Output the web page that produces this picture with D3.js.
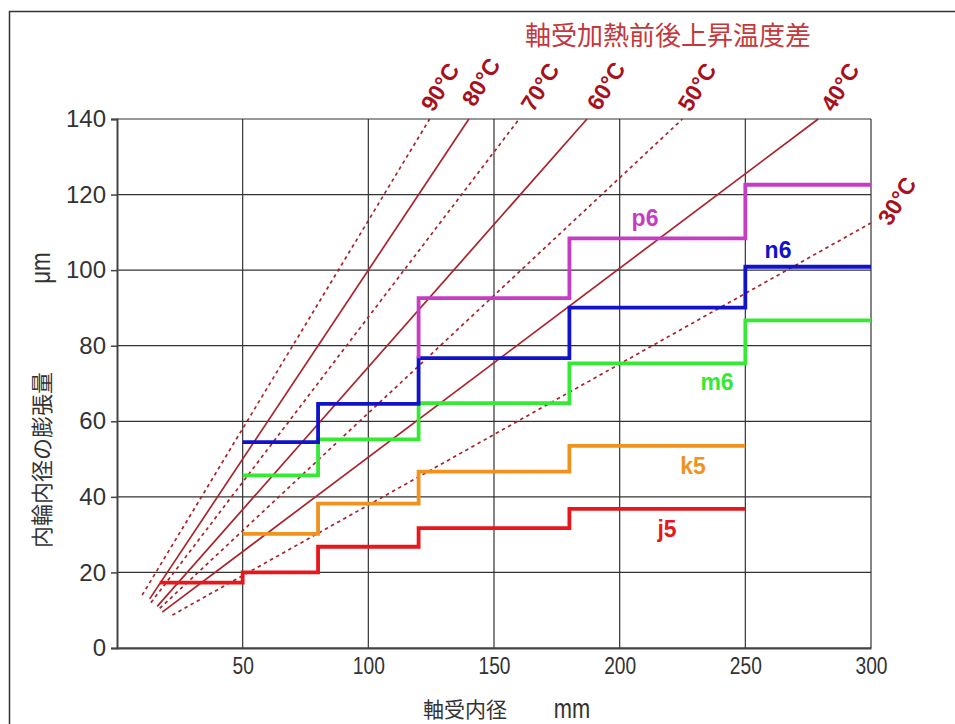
<!DOCTYPE html>
<html>
<head>
<meta charset="utf-8">
<script src="https://cdn.jsdelivr.net/npm/d3@7/dist/d3.min.js"></script>
<style>
  html, body { margin: 0; padding: 0; background: #fff; }
  svg { display: block; }
  text { font-family: "Liberation Sans", Arial, "Noto Sans CJK JP", sans-serif; }
  .cjk { font-family: "Noto Sans CJK JP", "Noto Sans CJK SC", sans-serif; }
</style>
</head>
<body>
<svg id="chart" width="955" height="724"></svg>
<script>
// Bore diameter class boundaries (mm)
const boreEdges = [50, 80, 120, 180, 250, 300];
const j5Edges = [17, 50, 80, 120, 180, 250];
const p6Edges = [120, 120, 180, 250, 300];

// Inner ring bore expansion per tolerance class (μm)
const j5 = [17.3, 20.0, 26.8, 31.7, 36.8];
const k5 = [30.2, 38.2, 46.7, 53.5];
const m6 = [45.7, 55.2, 64.8, 75.3, 86.7];
const n6 = [54.5, 64.6, 76.7, 90.1, 100.9];
const p6 = [76.7, 92.6, 108.4, 122.6];

const seriesNames = ["j5", "k5", "m6", "n6", "p6"];
const seriesColors = ["#e8171c", "#f0921e", "#35ea35", "#1212c8", "#c63cc4"];

// Temperature rise lines: start point and end point (mm, μm)
const tempLabels = ["90°C", "80°C", "70°C", "60°C", "50°C", "40°C", "30°C"];
const tempDashed = [true, false, true, false, true, false, true];
const tempX0 = [10, 13, 13.5, 16, 17, 18, 22];
const tempY0 = [14, 13, 12, 11, 10.5, 9.5, 8.7];
const tempX1 = [124.4, 140, 160, 187, 225, 279, 300];
const tempY1 = [140, 140, 140, 140, 140, 140, 112.5];

// Axis ticks
const xTicks = [50, 100, 150, 200, 250, 300];
const yTicks = [0, 20, 40, 60, 80, 100, 120, 140];

const svg = d3.select("#chart");

const x = d3.scaleLinear().domain([0, 300]).range([117, 871]);
const y = d3.scaleLinear().domain([0, 140]).range([648, 119]);

// outer frame
svg.append("path")
  .attr("d", "M9.5,724 L9.5,11.5 L955,11.5")
  .attr("fill", "none").attr("stroke", "#333").attr("stroke-width", 1.5);

// grid
const grid = svg.append("g");
grid.selectAll(".gx").data(xTicks).join("line")
  .attr("x1", d => x(d)).attr("x2", d => x(d))
  .attr("y1", y(0)).attr("y2", y(140))
  .attr("stroke", "#333").attr("stroke-width", 1.2);
grid.selectAll(".gy").data(yTicks).join("line")
  .attr("x1", x(0)).attr("x2", x(300))
  .attr("y1", d => y(d)).attr("y2", d => y(d))
  .attr("stroke", "#333").attr("stroke-width", 1.2);

// axes
const yAxis = svg.append("g")
  .attr("transform", `translate(${x(0)},0)`)
  .call(d3.axisLeft(y).tickValues(yTicks).tickSize(6).tickPadding(5));
yAxis.select(".domain").attr("stroke", "#444").attr("stroke-width", 2);
yAxis.selectAll(".tick line").attr("stroke", "#444").attr("stroke-width", 1.5);
yAxis.selectAll(".tick text").attr("font-size", 24).attr("fill", "#333")
  .attr("font-family", "Liberation Sans, Arial, sans-serif");

const xAxis = svg.append("g")
  .attr("transform", `translate(0,${y(0)})`)
  .call(d3.axisBottom(x).tickValues(xTicks).tickSize(0).tickPadding(9));
xAxis.select(".domain").attr("stroke", "#444").attr("stroke-width", 2);
xAxis.selectAll(".tick text").attr("font-size", 24).attr("fill", "#333")
  .attr("font-family", "Liberation Sans, Arial, sans-serif")
  .attr("transform", "scale(0.8,1)");

// temperature rise lines
const tg = svg.append("g");
tempLabels.forEach((lab, i) => {
  tg.append("line")
    .attr("x1", x(tempX0[i])).attr("y1", y(tempY0[i]))
    .attr("x2", x(tempX1[i])).attr("y2", y(tempY1[i]))
    .attr("stroke", "#a8242a").attr("stroke-width", 1.7)
    .attr("stroke-dasharray", tempDashed[i] ? "3.5,3.5" : null);
});

// tolerance class step lines
const stepLine = d3.line().x(d => x(d[0])).y(d => y(d[1])).curve(d3.curveStepAfter);
function stepPoints(edges, vals) {
  const pts = vals.map((v, i) => [edges[i], v]);
  pts.push([edges[vals.length], vals[vals.length - 1]]);
  return pts;
}
const allSeries = [
  stepPoints(j5Edges, j5),
  stepPoints(boreEdges, k5),
  stepPoints(boreEdges, m6),
  stepPoints(boreEdges, n6),
  stepPoints(p6Edges, p6)
];
svg.append("g").selectAll("path").data(allSeries).join("path")
  .attr("d", d => stepLine(d))
  .attr("fill", "none")
  .attr("stroke", (d, i) => seriesColors[i])
  .attr("stroke-width", 3.8);

// series labels
const seriesLabelPos = [[667, 529], [693, 466], [717, 382], [778, 250], [645, 218]];
svg.append("g").selectAll("text").data(seriesNames).join("text")
  .attr("x", (d, i) => seriesLabelPos[i][0])
  .attr("y", (d, i) => seriesLabelPos[i][1])
  .attr("text-anchor", "middle").attr("dominant-baseline", "central")
  .attr("font-size", 23).attr("font-weight", "bold")
  .attr("fill", (d, i) => seriesColors[i])
  .text(d => d);

// temperature labels
const tempLabelPos = [[440, 87], [481, 82], [540, 87], [606, 86], [697, 87], [840, 87], [897, 201]];
svg.append("g").selectAll("text").data(tempLabels).join("text")
  .attr("transform", (d, i) => `translate(${tempLabelPos[i][0]},${tempLabelPos[i][1]}) rotate(-58)`)
  .attr("text-anchor", "middle").attr("dominant-baseline", "central")
  .attr("font-size", 23).attr("font-weight", "bold")
  .attr("fill", "#a8101c")
  .text(d => d);

// heading for the temperature lines
svg.append("text").attr("class", "cjk")
  .attr("x", 668).attr("y", 33)
  .attr("text-anchor", "middle").attr("dominant-baseline", "central")
  .attr("font-size", 26).attr("fill", "#c4373a")
  .text("軸受加熱前後上昇温度差");

// axis titles
svg.append("text").attr("class", "cjk")
  .attr("transform", "translate(40,460) rotate(-90)")
  .attr("text-anchor", "middle").attr("dominant-baseline", "central")
  .attr("font-size", 22).attr("fill", "#333")
  .text("内輪内径の膨張量");
svg.append("text")
  .attr("transform", "translate(40,268) rotate(-90) scale(0.8,1)")
  .attr("text-anchor", "middle").attr("dominant-baseline", "central")
  .attr("font-size", 28).attr("fill", "#333")
  .text("μm");

svg.append("text").attr("class", "cjk")
  .attr("x", 465).attr("y", 708)
  .attr("text-anchor", "middle").attr("dominant-baseline", "central")
  .attr("font-size", 21).attr("fill", "#333")
  .text("軸受内径");
svg.append("text")
  .attr("transform", "translate(572,708) scale(0.78,1)")
  .attr("text-anchor", "middle").attr("dominant-baseline", "central")
  .attr("font-size", 28).attr("fill", "#333")
  .text("mm");
</script>
</body>
</html>
